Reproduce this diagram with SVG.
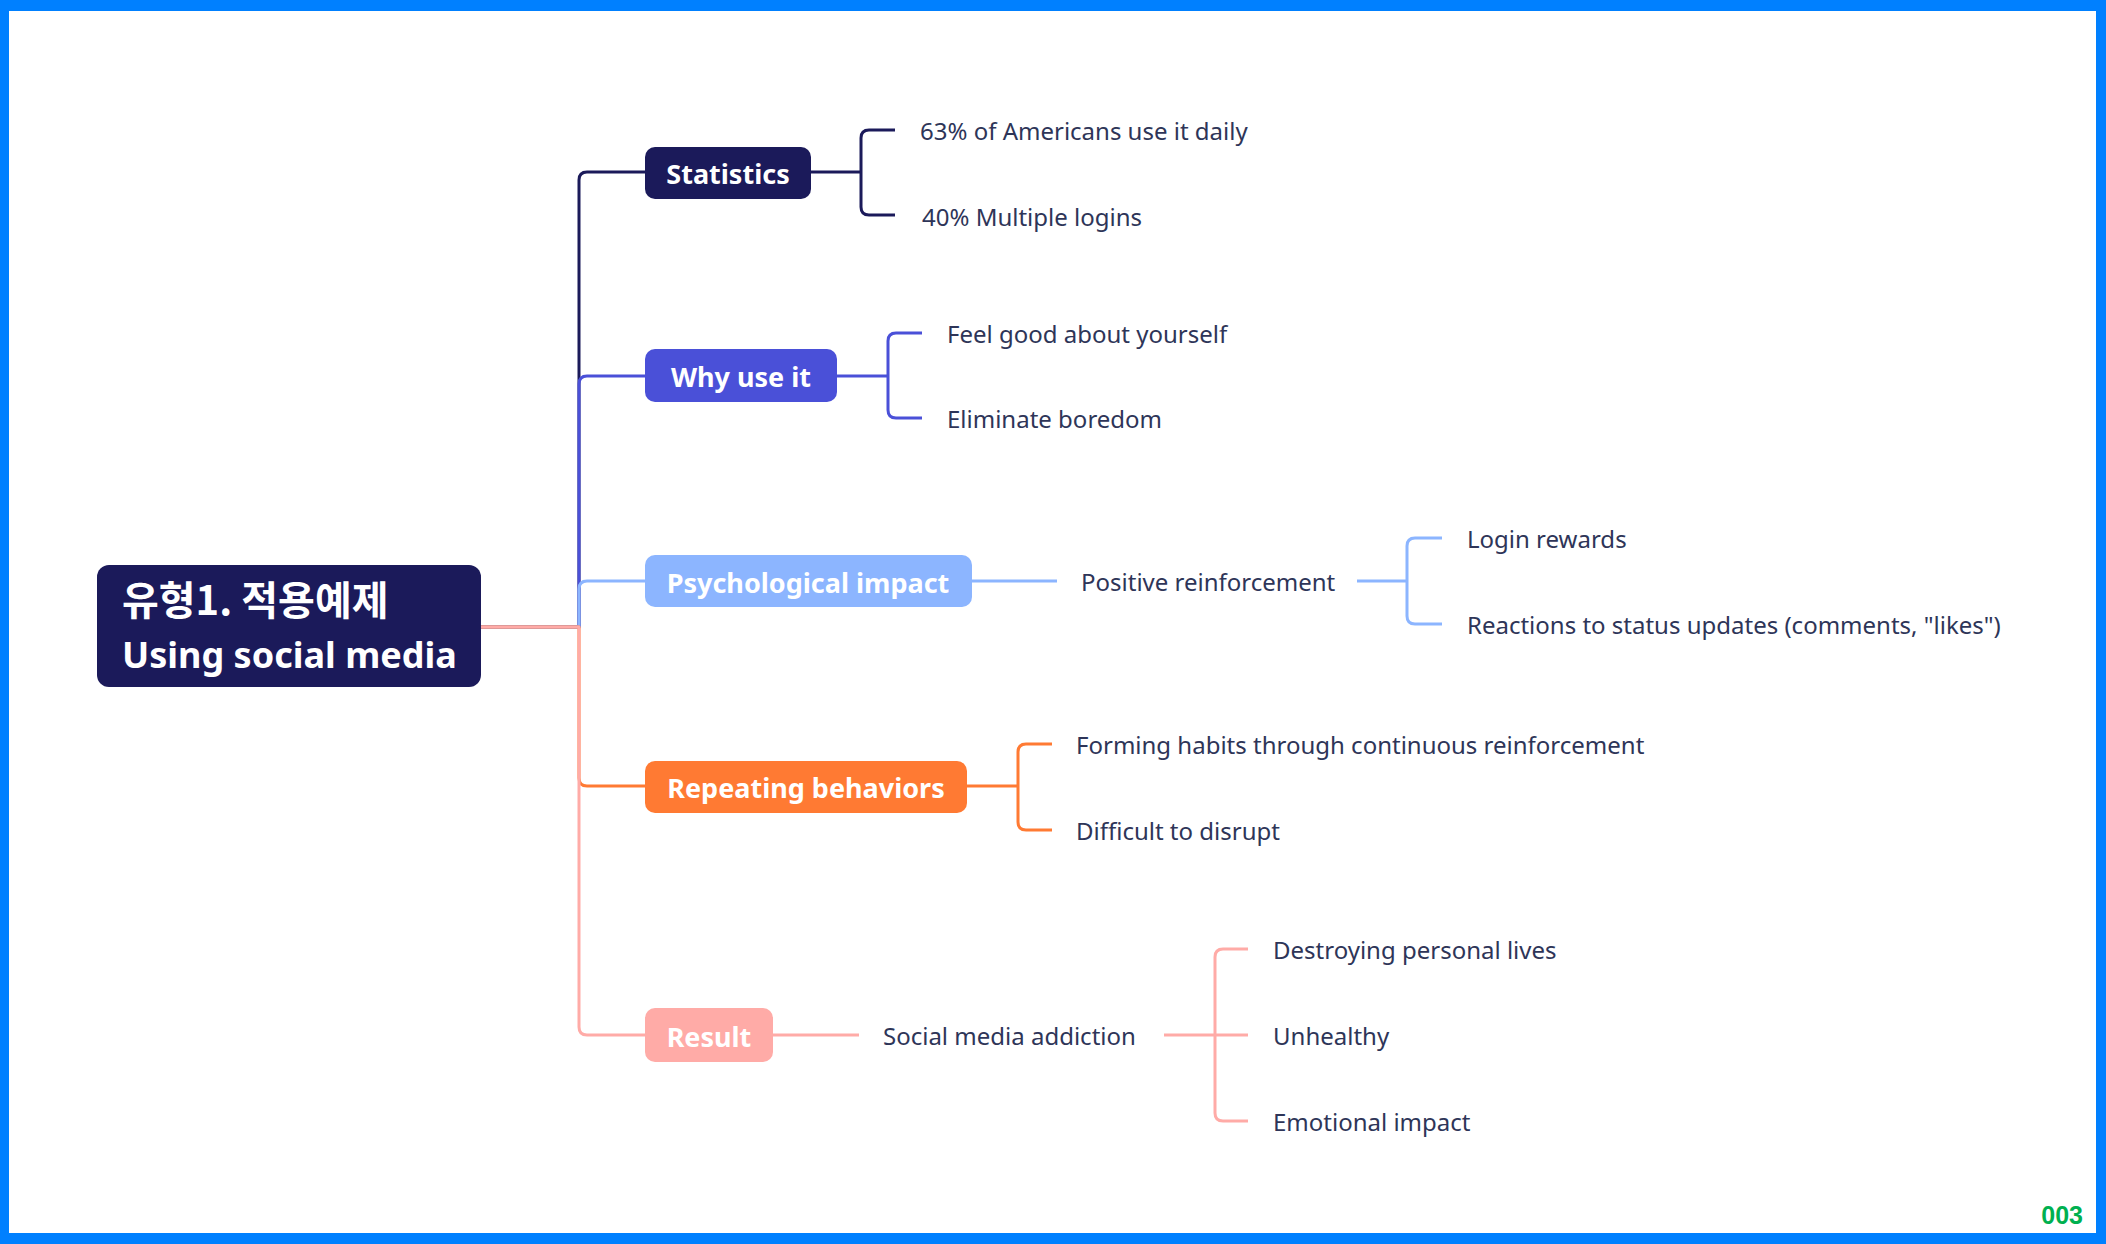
<svg xmlns="http://www.w3.org/2000/svg" width="2106" height="1244" viewBox="0 0 2106 1244">
<style>
.node-label{font-family:"Noto Sans","Noto Sans CJK KR",sans-serif;font-weight:700;font-size:27px;fill:#ffffff;text-anchor:middle}
.leaf{font-family:"Noto Sans","Noto Sans CJK KR",sans-serif;font-weight:400;font-size:24px;fill:#2E3558}
.ln{fill:none;stroke-width:3;stroke-linecap:butt;stroke-linejoin:round}
.navy{stroke:#1B1A5A}.why{stroke:#4A50D8}.psy{stroke:#8CB5FF}.rep{stroke:#FF7A33}.res{stroke:#FFABA7}
</style>
<rect x="0" y="0" width="2106" height="1244" fill="#ffffff"/>
<path d="M0,0H2106V1244H0Z M9,11V1233H2096V11Z" fill="#0080FF" fill-rule="evenodd"/>

<g id="connectors">
  <path class="ln navy" d="M481,627H579V180Q579,172 587,172H645"/>
  <path class="ln why" d="M481,627H579V384Q579,376 587,376H645"/>
  <path class="ln psy" d="M481,627H579V589Q579,581 587,581H645"/>
  <path class="ln rep" d="M481,627H579V778Q579,786 587,786H645"/>
  <path class="ln res" d="M481,627H579V1027Q579,1035 587,1035H645"/>

  <path class="ln navy" d="M811,172H861"/>
  <path class="ln navy" d="M895,130H869Q861,130 861,138V207Q861,215 869,215H895"/>

  <path class="ln why" d="M837,376H888"/>
  <path class="ln why" d="M922,333H896Q888,333 888,341V410Q888,418 896,418H922"/>

  <path class="ln psy" d="M971,581H1057"/>
  <path class="ln psy" d="M1357,581H1407"/>
  <path class="ln psy" d="M1442,538H1415Q1407,538 1407,546V616Q1407,624 1415,624H1442"/>

  <path class="ln rep" d="M967,786H1018"/>
  <path class="ln rep" d="M1052,744H1026Q1018,744 1018,752V822Q1018,830 1026,830H1052"/>

  <path class="ln res" d="M773,1035H859"/>
  <path class="ln res" d="M1164,1035H1248"/>
  <path class="ln res" d="M1248,949H1223Q1215,949 1215,957V1113Q1215,1121 1223,1121H1248"/>
</g>

<g id="root">
  <rect x="97" y="565" width="384" height="122" rx="12" fill="#1B1A5A"/>
  <text x="122" y="615" font-family="'Noto Sans CJK KR','Noto Sans',sans-serif" font-weight="700" font-size="40" fill="#ffffff">유형1. 적용예제</text>
  <text x="122" y="668" font-family="'Noto Sans','Noto Sans CJK KR',sans-serif" font-weight="700" font-size="36" fill="#ffffff">Using social media</text>
</g>

<g id="statistics">
  <rect x="645" y="147" width="166" height="52" rx="10" fill="#1B1A5A"/>
  <text class="node-label" x="728" y="184">Statistics</text>
</g>
<g id="why-use-it">
  <rect x="645" y="349" width="192" height="53" rx="10" fill="#4A50D8"/>
  <text class="node-label" x="741" y="387">Why use it</text>
</g>
<g id="psychological-impact">
  <rect x="645" y="555" width="327" height="52" rx="10" fill="#8CB5FF"/>
  <text class="node-label" x="808" y="593">Psychological impact</text>
</g>
<g id="repeating-behaviors">
  <rect x="645" y="761" width="322" height="52" rx="10" fill="#FF7A33"/>
  <text class="node-label" x="806" y="798">Repeating behaviors</text>
</g>
<g id="result">
  <rect x="645" y="1008" width="128" height="54" rx="10" fill="#FFABA7"/>
  <text class="node-label" x="709" y="1047">Result</text>
</g>

<g id="stat-1"><text class="leaf" x="920" y="140">63% of Americans use it daily</text></g>
<g id="stat-2"><text class="leaf" x="922" y="226">40% Multiple logins</text></g>
<g id="why-1"><text class="leaf" x="947" y="343">Feel good about yourself</text></g>
<g id="why-2"><text class="leaf" x="947" y="428">Eliminate boredom</text></g>
<g id="psy-1"><text class="leaf" x="1081" y="591">Positive reinforcement</text></g>
<g id="psy-1-1"><text class="leaf" x="1467" y="548">Login rewards</text></g>
<g id="psy-1-2"><text class="leaf" x="1467" y="634">Reactions to status updates (comments, "likes")</text></g>
<g id="rep-1"><text class="leaf" x="1076" y="754">Forming habits through continuous reinforcement</text></g>
<g id="rep-2"><text class="leaf" x="1076" y="840">Difficult to disrupt</text></g>
<g id="res-1"><text class="leaf" x="883" y="1045">Social media addiction</text></g>
<g id="res-1-1"><text class="leaf" x="1273" y="959">Destroying personal lives</text></g>
<g id="res-1-2"><text class="leaf" x="1273" y="1045">Unhealthy</text></g>
<g id="res-1-3"><text class="leaf" x="1273" y="1131">Emotional impact</text></g>

<text x="2083" y="1224" text-anchor="end" font-family="'Liberation Sans',sans-serif" font-weight="700" font-size="25" fill="#00B050">003</text>
</svg>
